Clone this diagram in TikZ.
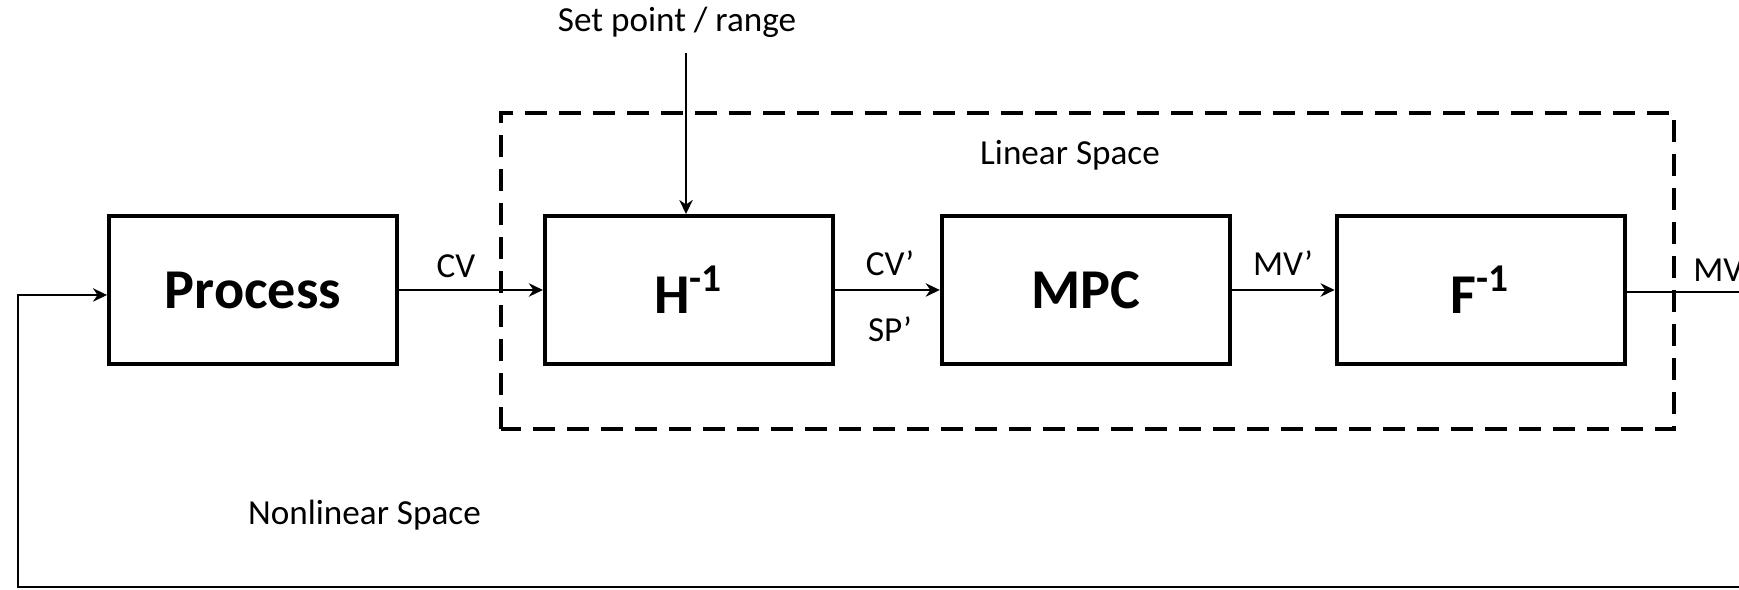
\documentclass[tikz,border=0pt]{standalone}
\usepackage{fontspec}
\setmainfont{Carlito}
\usetikzlibrary{positioning,calc,arrows.meta}

\begin{document}
\begin{tikzpicture}[->,>={Stealth[length=4pt,width=3.8pt]},line width=0.8pt,
			main node/.style={draw, rectangle, align=center, line width=1.1pt,
				minimum width=2.88cm, minimum height=1.48cm, inner sep=0pt,
				font=\fontsize{16}{19}\selectfont\bfseries},
			label node/.style={font=\fontsize{10}{12}\selectfont, inner sep=0pt}]

			\useasboundingbox (0,0) rectangle (17.39,5.90);

			\node[main node] (1) at (2.53,3.0) {Process};
			\node[main node, right=1.44cm of 1] (2) {H\textsuperscript{-1}};
			\node[main node, right=1.05cm of 2] (3) {MPC};
			\node[main node, right=1.03cm of 3] (4) {F\textsuperscript{-1}};

			% linear space frame
			\draw[-, line width=1.1pt, dash pattern=on 0.22cm off 0.12cm] (5.01,1.61) rectangle (16.74,4.77);

			\node[label node] (sp) at (6.77,5.68) {Set point / range};
			\node[label node] (lin) at (10.70,4.35) {Linear Space};
			\node[label node] (nonlin) at (3.645,0.75) {Nonlinear Space};
			\node[label node] (cv) at (4.56,3.24) {CV};
			\node[label node] (cvp) at (8.90,3.27) {CV’};
			\node[label node] (spp) at (8.90,2.61) {SP’};
			\node[label node] (mvp) at (12.83,3.27) {MV’};
			\node[label node, anchor=west] (mv) at (16.92,3.20) {MV};

			\coordinate (spin) at (6.86,5.37);
			\coordinate (mvout) at (17.39,2.98);
			\coordinate (fbin) at (17.39,0.03);
			\coordinate (fbup) at (0.18,0.03);

			\draw (spin) -- (spin |- 2.north);
			\draw (1) -- (2);
			\draw (2) -- (3);
			\draw (3) -- (4);
			\draw[-] (4.east |- mvout) -- (mvout);
			\draw (fbin) -- (fbup) |- ($(1.west)+(0,-0.05)$);
		\end{tikzpicture}
\end{document}
